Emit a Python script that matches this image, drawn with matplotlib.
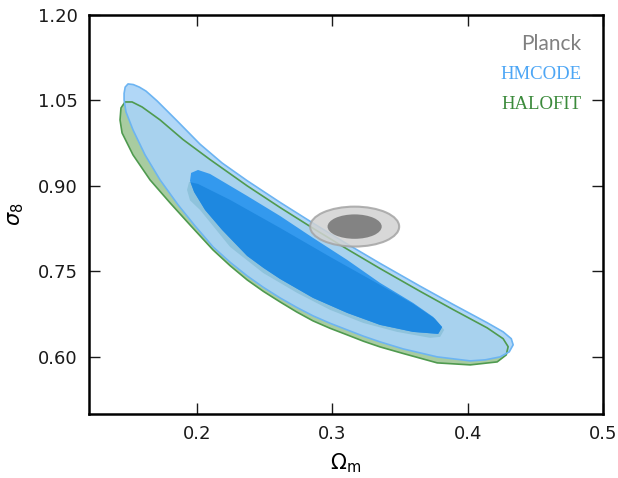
import numpy as np
import matplotlib
matplotlib.use("Agg")
import matplotlib.pyplot as plt
from matplotlib.patches import Polygon, Ellipse

# contour outlines: (Omega_m, sigma_8)
hmcode_95_om = [0.1462, 0.1470, 0.1491, 0.1530, 0.1575, 0.1624, 0.1705, 0.1853, 0.2023, 0.2186,
                0.2371, 0.2614, 0.2858, 0.3110, 0.3353, 0.3649, 0.3893, 0.4144, 0.4262, 0.4322,
                0.4336, 0.4307, 0.4240, 0.4129, 0.4019, 0.3775, 0.3523, 0.3353, 0.3231, 0.3110,
                0.2984, 0.2858, 0.2736, 0.2614, 0.2492, 0.2371, 0.2245, 0.2119, 0.1986, 0.1861,
                0.1728, 0.1617, 0.1528, 0.1476, 0.1462]
hmcode_95_s8 = [1.0620, 1.0730, 1.0786, 1.0775, 1.0730, 1.0660, 1.0490, 1.0140, 0.9730, 0.9400,
                0.9090, 0.8710, 0.8345, 0.7980, 0.7640, 0.7240, 0.6920, 0.6600, 0.6440, 0.6320,
                0.6212, 0.6089, 0.6001, 0.5949, 0.5931, 0.6001, 0.6141, 0.6264, 0.6363, 0.6474,
                0.6590, 0.6720, 0.6870, 0.7035, 0.7218, 0.7421, 0.7660, 0.7929, 0.8297, 0.8665,
                0.9103, 0.9541, 0.9979, 1.0295, 1.0505]

halofit_95_om = [0.1439, 0.1469, 0.1521, 0.1595, 0.1728, 0.1898, 0.2097, 0.2371, 0.2614, 0.2858,
                 0.3110, 0.3353, 0.3649, 0.3893, 0.4144, 0.4262, 0.4299, 0.4285, 0.4218, 0.4019,
                 0.3775, 0.3523, 0.3353, 0.3231, 0.3110, 0.2984, 0.2858, 0.2736, 0.2614, 0.2492,
                 0.2371, 0.2245, 0.2119, 0.1949, 0.1802, 0.1654, 0.1528, 0.1447, 0.1432]
halofit_95_s8 = [1.0365, 1.0470, 1.0470, 1.0382, 1.0155, 0.9810, 0.9460, 0.9000, 0.8620, 0.8255,
                 0.7890, 0.7550, 0.7150, 0.6830, 0.6510, 0.6320, 0.6180, 0.6036, 0.5913, 0.5861,
                 0.5896, 0.6061, 0.6176, 0.6275, 0.6387, 0.6502, 0.6632, 0.6790, 0.6965, 0.7148,
                 0.7351, 0.7600, 0.7876, 0.8314, 0.8700, 0.9103, 0.9541, 0.9927, 1.0155]

hmcode_68_om = [0.1949, 0.1957, 0.2008, 0.2097, 0.2371, 0.2614, 0.2858, 0.3110, 0.3353, 0.3597,
                0.3745, 0.3812, 0.3782, 0.3597, 0.3353, 0.3110, 0.2858, 0.2614, 0.2492, 0.2371,
                0.2186, 0.2060, 0.1979]
hmcode_68_s8 = [0.9086, 0.9226, 0.9278, 0.9208, 0.8823, 0.8472, 0.8087, 0.7701, 0.7298, 0.6947,
                0.6702, 0.6527, 0.6404, 0.6439, 0.6562, 0.6772, 0.7035, 0.7368, 0.7560, 0.7771,
                0.8227, 0.8577, 0.8893]

halofit_68_om = [0.1927, 0.1942, 0.2008, 0.2245, 0.2614, 0.2984, 0.3353, 0.3597, 0.3760, 0.3826,
                 0.3797, 0.3723, 0.3479, 0.3228, 0.2984, 0.2740, 0.2489, 0.2245, 0.2023, 0.1949]
halofit_68_s8 = [0.8928, 0.9068, 0.9033, 0.8753, 0.8262, 0.7754, 0.7263, 0.6930, 0.6667, 0.6474,
                 0.6352, 0.6335, 0.6439, 0.6597, 0.6825, 0.7123, 0.7473, 0.7929, 0.8577, 0.8745]

# Planck: centre and full widths of the two ellipses
planck_center = (0.3165, 0.8285)
planck_95_size = (0.0658, 0.0700)
planck_68_size = (0.0400, 0.0428)

xticks = [0.2, 0.3, 0.4, 0.5]
yticks = [0.60, 0.75, 0.90, 1.05, 1.20]


def poly(om, s8, **kw):
    return Polygon(np.column_stack([om, s8]), closed=True, **kw)


fig = plt.figure(figsize=(6.18, 4.78), dpi=100)
ax = fig.add_axes([0.1434, 0.1339, 0.8324, 0.8354])

ax.add_patch(poly(halofit_95_om, halofit_95_s8, fc='#a8cca0', ec='none', zorder=1))
ax.add_patch(poly(hmcode_95_om, hmcode_95_s8, fc='#a9d3f7', ec='none', alpha=0.9, zorder=2))
ax.add_patch(poly(halofit_68_om, halofit_68_s8, fc='#8fc3dc', ec='none', zorder=3))
blue_in = poly(hmcode_68_om, hmcode_68_s8, fc='#3399ee', ec='none', zorder=4)
ax.add_patch(blue_in)
dark = poly(halofit_68_om, halofit_68_s8, fc='#1e88e0', ec='none', zorder=5)
ax.add_patch(dark)
dark.set_clip_path(blue_in)

ax.add_patch(poly(halofit_95_om, halofit_95_s8, fill=False, ec='#4f9a4f', lw=1.2,
                  joinstyle='round', zorder=6))
ax.add_patch(poly(hmcode_95_om, hmcode_95_s8, fill=False, ec='#6cb4f2', lw=1.2,
                  joinstyle='round', zorder=6))

ax.add_patch(Ellipse(planck_center, planck_95_size[0], planck_95_size[1],
                     fc='#d2d2d2', ec='#a4a4a4', lw=1.5, alpha=0.85, zorder=7))
ax.add_patch(Ellipse(planck_center, planck_68_size[0], planck_68_size[1],
                     fc='#7f7f7f', ec='none', alpha=0.95, zorder=8))

ax.set_xlim(0.12, 0.5)
ax.set_ylim(0.5, 1.2)
ax.set_xticks(xticks)
ax.set_xticklabels([str(t) for t in xticks])
ax.set_yticks(yticks)
ax.set_yticklabels(["%.2f" % t for t in yticks])
ax.tick_params(direction='in', top=True, right=True, length=8, width=1,
               labelsize=13, pad=8, colors='#1a1a1a')
for s in ax.spines.values():
    s.set_linewidth(1.8)

ax.set_xlabel(r"$\Omega_{\rm m}$", fontsize=15, labelpad=6)
ax.set_ylabel(r"$\sigma_8$", fontsize=15, labelpad=8)

ax.text(0.9586, 0.9116, "Planck", transform=ax.transAxes, ha='right', va='baseline',
        color='#808080', fontsize=15, family='Lato')
ax.text(0.9586, 0.8382, "HMCODE", transform=ax.transAxes, ha='right', va='baseline',
        color='#4da6f5', fontsize=13.5, family='Liberation Serif')
ax.text(0.9586, 0.7631, "HALOFIT", transform=ax.transAxes, ha='right', va='baseline',
        color='#3b8a3b', fontsize=13.5, family='Liberation Serif')

plt.savefig("out.png", dpi=100)
